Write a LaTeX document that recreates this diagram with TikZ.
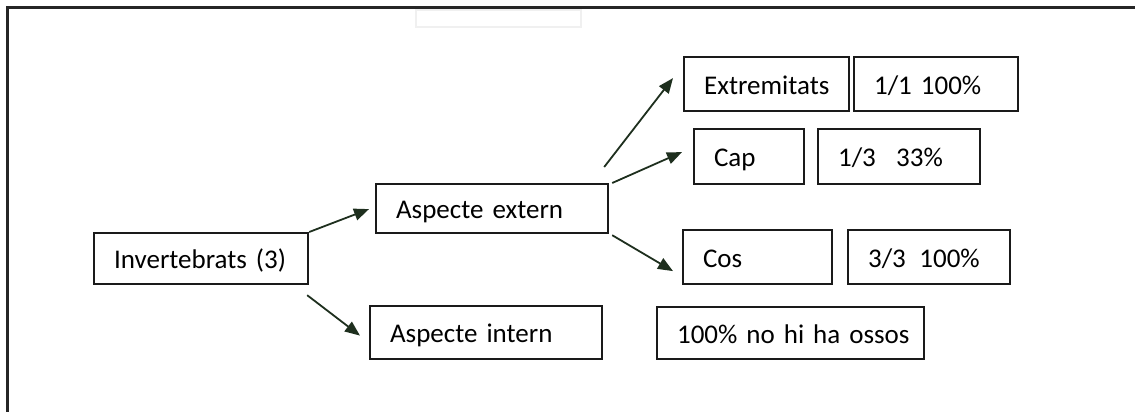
\documentclass[tikz,border=0pt]{standalone}
\usepackage{fontspec}
\setmainfont{Carlito}
\usetikzlibrary{arrows.meta}
\definecolor{arrowgreen}{HTML}{1E2F1E}
\definecolor{boxline}{HTML}{1A1A1A}
\begin{document}
\begin{tikzpicture}[x=1pt,y=-1pt,
  box/.style={draw=boxline, line width=2.2pt, rectangle, anchor=north west,
    inner xsep=20pt, inner ysep=0pt, align=left,
    font=\fontsize{27}{30}\selectfont, text height=22pt, text depth=2pt},
  conn/.style={draw=arrowgreen, line width=1.8pt, -{Triangle[length=15pt,width=12pt]}}
]
\useasboundingbox (0,0) rectangle (1135,412);
% frame
\draw[line width=3pt, black!85] (7,412) -- (7,8) -- (1135,8);
\draw[black!6, line width=1.5pt] (416,10) rectangle (581,27);

\node[box, minimum height=51pt, text width=174pt] (inv) at (93,232) {\mbox{Invertebrats (3)}};
\node[box, minimum height=49pt, text width=192pt] (ae) at (375,183) {\mbox{Aspecte extern}};
\node[box, minimum height=53pt, text width=192pt] (ai) at (369,305) {\mbox{Aspecte intern}};
\node[box, minimum height=54pt, text width=125pt] (ext) at (683,56) {\mbox{Extremitats}};
\node[box, minimum height=54pt, text width=124pt] (r1) at (853,56) {\mbox{1/1 100\%}};
\node[box, minimum height=55pt, text width=70pt] (cap) at (693,128) {\mbox{Cap}};
\node[box, minimum height=55pt, text width=122pt] (r2) at (817,128) {\mbox{1/3\hspace{0.75em}33\%}};
\node[box, minimum height=54pt, text width=109pt] (cos) at (682,229) {\mbox{Cos}};
\node[box, minimum height=54pt, text width=122pt] (r3) at (847,229) {\mbox{3/3\hspace{0.5em}100\%}};
\node[box, minimum height=52pt, text width=227pt] (r4) at (656,306) {\mbox{100\% no hi ha ossos}};

\draw[conn] (inv.north east) -- ([shift={(-6,0.5)}]ae.west);
\draw[conn] ([shift={(-2,10)}]inv.south east) -- ([shift={(-9,3)}]ai.west);
\draw[conn] ([shift={(-5,-16)}]ae.north east) -- ([shift={(-10,-6)}]ext.west);
\draw[conn] ([shift={(3,0)}]ae.north east) -- ([shift={(-11,-4.5)}]cap.west);
\draw[conn] ([shift={(3,1)}]ae.south east) -- ([shift={(-9,14)}]cos.west);
\end{tikzpicture}
\end{document}
